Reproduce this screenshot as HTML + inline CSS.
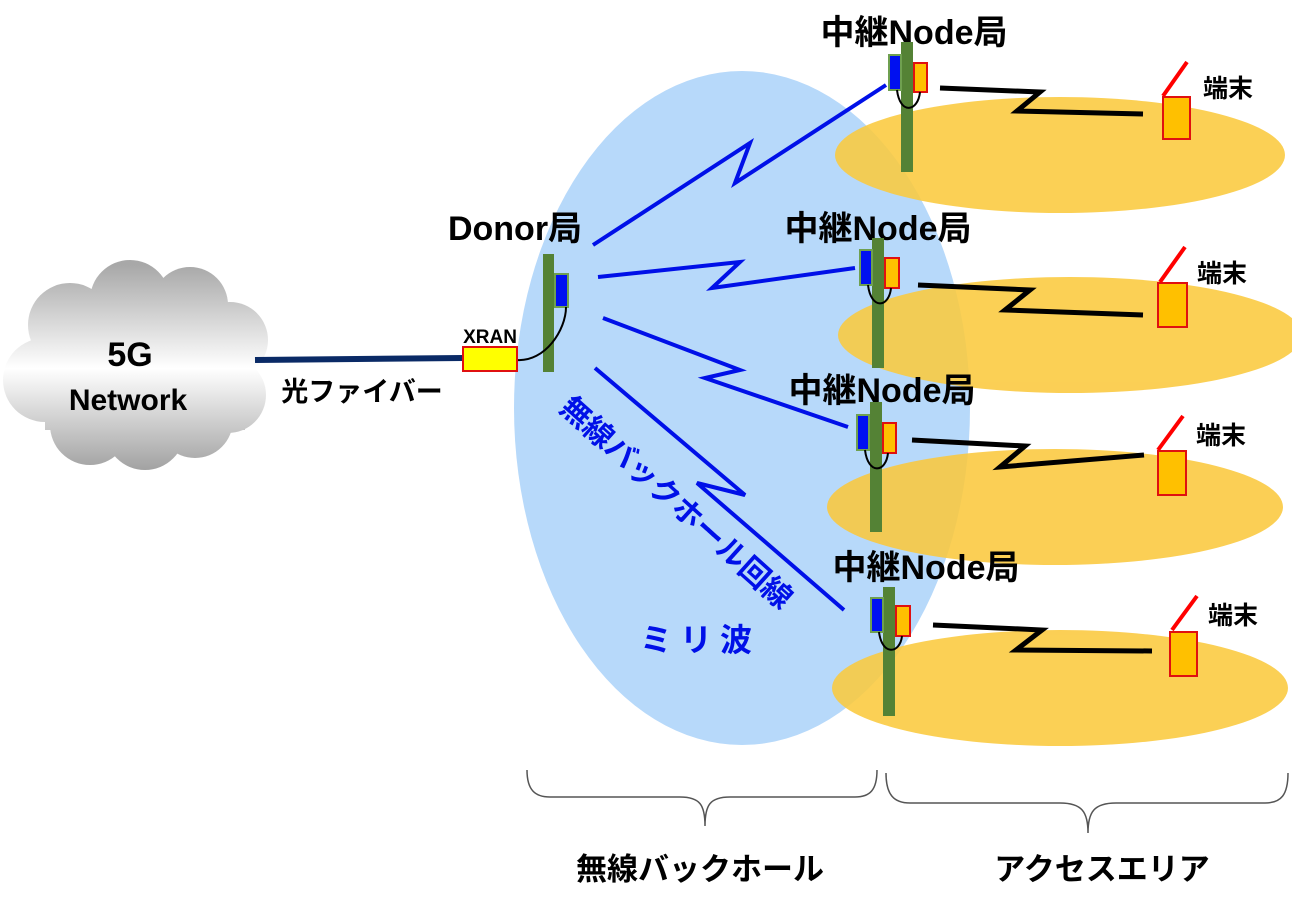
<!DOCTYPE html>
<html><head><meta charset="utf-8"><style>
html,body{margin:0;padding:0;background:#fff;}
svg{display:block;}
text{font-family:"Liberation Sans","Noto Sans CJK JP",sans-serif;}
</style></head><body>
<svg width="1292" height="907" viewBox="0 0 1292 907" xmlns="http://www.w3.org/2000/svg">
<defs>
<linearGradient id="cg" gradientUnits="userSpaceOnUse" x1="0" y1="265" x2="0" y2="472">
<stop offset="0" stop-color="#a8a8a8"/><stop offset="0.5" stop-color="#ffffff"/><stop offset="1" stop-color="#a0a0a0"/>
</linearGradient>
</defs>
<!-- cloud -->
<g fill="url(#cg)">
<circle cx="70" cy="325" r="42"/><circle cx="130" cy="300" r="40"/><circle cx="190" cy="305" r="38"/>
<circle cx="230" cy="340" r="38"/><circle cx="45" cy="380" r="42"/><circle cx="228" cy="395" r="38"/>
<circle cx="90" cy="425" r="40"/><circle cx="145" cy="430" r="40"/><circle cx="195" cy="420" r="38"/>
<rect x="45" y="320" width="200" height="110"/>
</g>
<text x="130" y="366" font-size="34" font-weight="bold" text-anchor="middle">5G</text>
<text x="128" y="410" font-size="30" font-weight="bold" text-anchor="middle">Network</text>
<line x1="255" y1="360" x2="463" y2="358" stroke="#0a2a66" stroke-width="6"/>
<text x="362" y="401" font-size="27" font-weight="bold" text-anchor="middle">光ファイバー</text>

<!-- blue ellipse -->
<ellipse cx="742" cy="408" rx="228" ry="337" fill="#b7d9fa"/>
<!-- yellow ellipses -->
<g fill="#fbc93e" opacity="0.88">
<ellipse cx="1060" cy="155" rx="225" ry="58"/>
<ellipse cx="1070" cy="335" rx="232" ry="58"/>
<ellipse cx="1055" cy="507" rx="228" ry="58"/>
<ellipse cx="1060" cy="688" rx="228" ry="58"/>
</g>

<!-- backhaul lines -->
<g stroke="#0010e8" stroke-width="4" fill="none" stroke-linejoin="miter">
<polyline points="593,245 750,143 735,183 886,85"/>
<polyline points="598,277 740,262 712,288 855,268"/>
<polyline points="603,318 740,370 705,378 848,427"/>
<polyline points="595,368 745,495 697,483 844,610"/>
</g>

<!-- donor -->
<text x="515" y="240" font-size="34" font-weight="bold" text-anchor="middle">Donor局</text>
<rect x="543" y="254" width="11" height="118" fill="#548235"/>
<rect x="555" y="274" width="13" height="33" fill="#0010f0" stroke="#6fa050" stroke-width="2"/>
<path d="M517,360 C545,362 566,330 566,307" stroke="#000" stroke-width="2" fill="none"/>
<rect x="463" y="347" width="54" height="24" fill="#ffff00" stroke="#e01010" stroke-width="2"/>
<text x="490" y="343" font-size="19" font-weight="bold" text-anchor="middle">XRAN</text>

<!-- rotated label -->
<text transform="translate(558,410) rotate(42)" font-size="30" font-weight="bold" fill="#0010e8">無線バックホール回線</text>
<text x="700" y="651" font-size="32" font-weight="bold" fill="#0010e8" text-anchor="middle" letter-spacing="8">ミリ波</text>

<!-- nodes -->
<g>
<text x="914" y="44" font-size="34" font-weight="bold" text-anchor="middle">中継Node局</text>
<rect x="901" y="42" width="12" height="130" fill="#548235"/>
<rect x="889" y="55" width="12" height="35" fill="#0010f0" stroke="#6fa050" stroke-width="2"/>
<rect x="914" y="63" width="13" height="29" fill="#ffc000" stroke="#e01010" stroke-width="2"/>
<path d="M897,90 C900,115 918,112 920,92" stroke="#000" stroke-width="2" fill="none"/>
<polyline points="940,88 1040,92 1017,111 1143,114" stroke="#000" stroke-width="5" fill="none"/>
<rect x="1163" y="97" width="27" height="42" fill="#ffc000" stroke="#e01010" stroke-width="2"/>
<line x1="1163" y1="96" x2="1187" y2="62" stroke="#f00" stroke-width="4"/>
<text x="1228" y="97" font-size="25" font-weight="bold" text-anchor="middle">端末</text>
</g>
<g>
<text x="878" y="240" font-size="34" font-weight="bold" text-anchor="middle">中継Node局</text>
<rect x="872" y="238" width="12" height="130" fill="#548235"/>
<rect x="860" y="250" width="12" height="35" fill="#0010f0" stroke="#6fa050" stroke-width="2"/>
<rect x="885" y="258" width="14" height="30" fill="#ffc000" stroke="#e01010" stroke-width="2"/>
<path d="M868,285 C871,310 889,308 891,288" stroke="#000" stroke-width="2" fill="none"/>
<polyline points="918,285 1030,290 1005,310 1143,315" stroke="#000" stroke-width="5" fill="none"/>
<rect x="1158" y="283" width="29" height="44" fill="#ffc000" stroke="#e01010" stroke-width="2"/>
<line x1="1160" y1="282" x2="1185" y2="247" stroke="#f00" stroke-width="4"/>
<text x="1222" y="282" font-size="25" font-weight="bold" text-anchor="middle">端末</text>
</g>
<g>
<text x="882" y="402" font-size="34" font-weight="bold" text-anchor="middle">中継Node局</text>
<rect x="870" y="402" width="12" height="130" fill="#548235"/>
<rect x="857" y="415" width="12" height="35" fill="#0010f0" stroke="#6fa050" stroke-width="2"/>
<rect x="883" y="423" width="13" height="30" fill="#ffc000" stroke="#e01010" stroke-width="2"/>
<path d="M865,450 C868,475 886,473 888,453" stroke="#000" stroke-width="2" fill="none"/>
<polyline points="912,440 1025,446 1000,467 1144,455" stroke="#000" stroke-width="5" fill="none"/>
<rect x="1158" y="451" width="28" height="44" fill="#ffc000" stroke="#e01010" stroke-width="2"/>
<line x1="1158" y1="450" x2="1183" y2="416" stroke="#f00" stroke-width="4"/>
<text x="1221" y="444" font-size="25" font-weight="bold" text-anchor="middle">端末</text>
</g>
<g>
<text x="926" y="579" font-size="34" font-weight="bold" text-anchor="middle">中継Node局</text>
<rect x="883" y="587" width="12" height="129" fill="#548235"/>
<rect x="871" y="598" width="12" height="34" fill="#0010f0" stroke="#6fa050" stroke-width="2"/>
<rect x="896" y="606" width="14" height="30" fill="#ffc000" stroke="#e01010" stroke-width="2"/>
<path d="M879,632 C882,656 900,654 902,636" stroke="#000" stroke-width="2" fill="none"/>
<polyline points="933,625 1042,630 1016,650 1152,651" stroke="#000" stroke-width="5" fill="none"/>
<rect x="1170" y="632" width="27" height="44" fill="#ffc000" stroke="#e01010" stroke-width="2"/>
<line x1="1172" y1="630" x2="1197" y2="596" stroke="#f00" stroke-width="4"/>
<text x="1233" y="624" font-size="25" font-weight="bold" text-anchor="middle">端末</text>
</g>

<!-- braces -->
<g stroke="#555" stroke-width="1.5" fill="none">
<path d="M527,770 C527,790 535,797 550,797 L680,797 C700,797 705,805 705,826 C705,805 710,797 730,797 L855,797 C870,797 877,790 877,770"/>
<path d="M886,773 C886,795 894,803 910,803 L1060,803 C1082,803 1088,812 1088,833 C1088,812 1094,803 1116,803 L1265,803 C1281,803 1288,795 1288,773"/>
</g>
<text x="700" y="880" font-size="31" font-weight="bold" text-anchor="middle">無線バックホール</text>
<text x="1102" y="880" font-size="31" font-weight="bold" text-anchor="middle">アクセスエリア</text>
</svg>
</body></html>
